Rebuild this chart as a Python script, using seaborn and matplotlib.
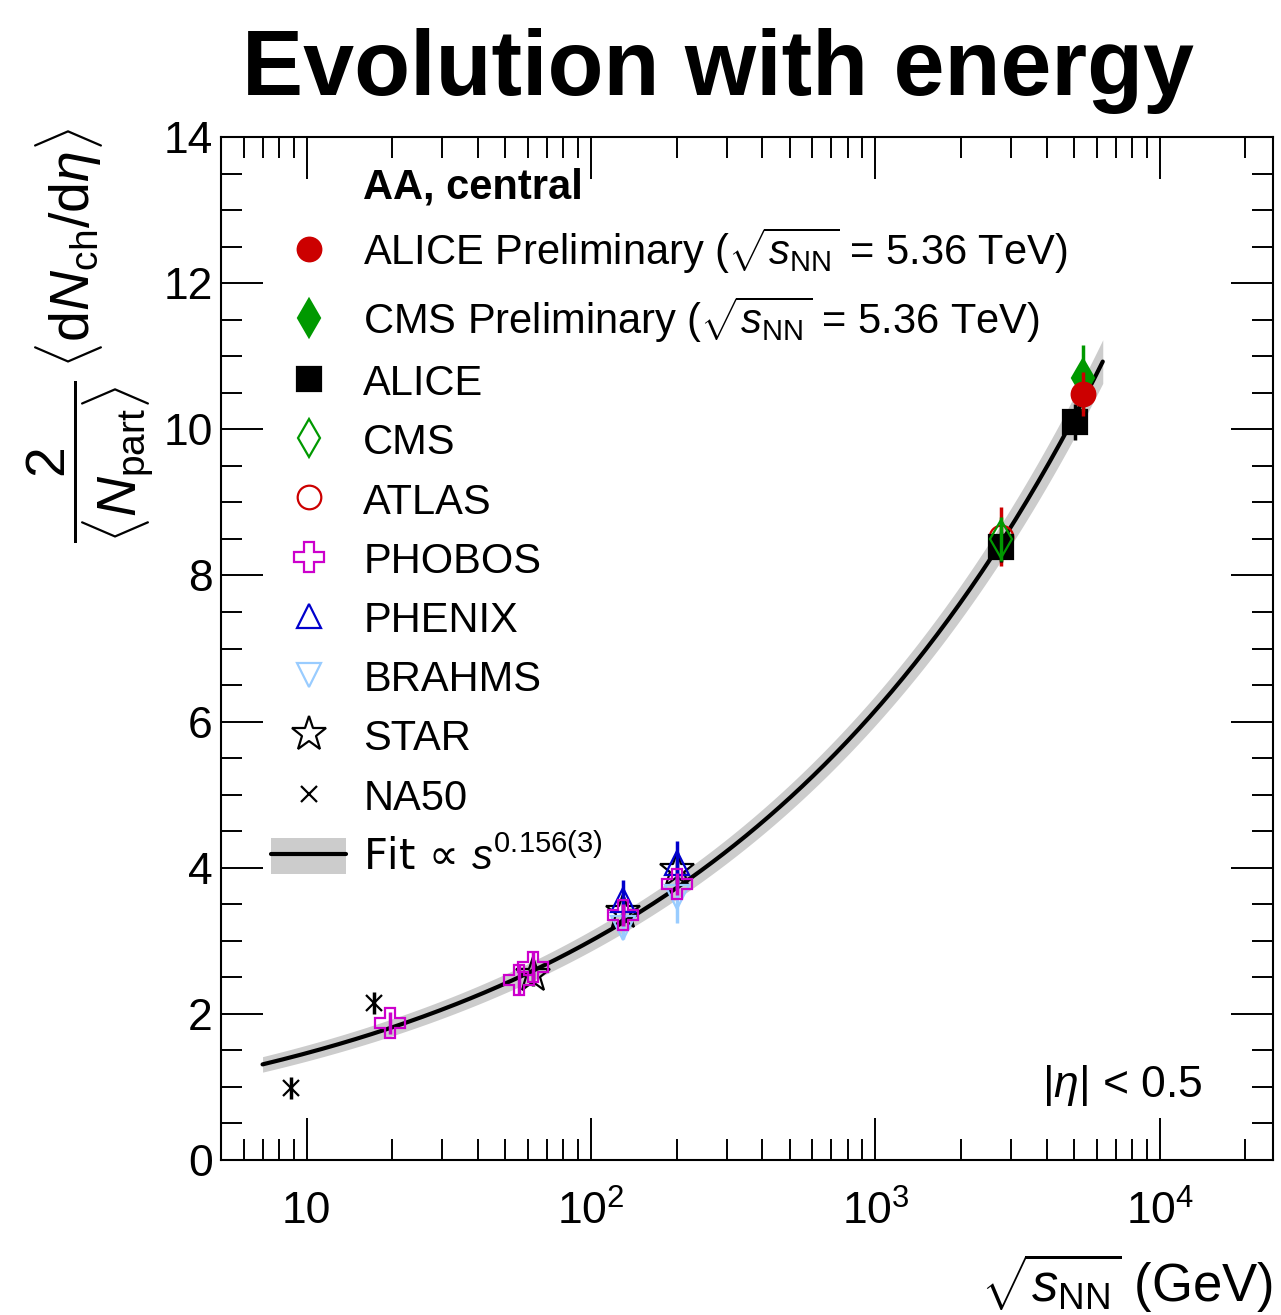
import matplotlib
matplotlib.use("Agg")
import matplotlib.pyplot as plt
import numpy as np
import seaborn as sns
from matplotlib.lines import Line2D
from matplotlib.patches import Patch
from matplotlib.ticker import FixedLocator, FixedFormatter, MultipleLocator, LogLocator, NullFormatter

# ---- data (sqrt(s_NN) in GeV, value, error) ----
alice_pre_x = [5360]
alice_pre_y = [10.48]
alice_pre_e = [0.30]

cms_pre_x = [5360]
cms_pre_y = [10.70]
cms_pre_e = [0.45]

alice_x = [2760, 5020]
alice_y = [8.39, 10.10]
alice_e = [0.20, 0.25]

cms_x = [2760]
cms_y = [8.50]
cms_e = [0.30]

atlas_x = [2760]
atlas_y = [8.53]
atlas_e = [0.40]

phobos_x = [19.6, 56, 62.4, 130, 200]
phobos_y = [1.88, 2.47, 2.64, 3.35, 3.78]
phobos_e = [0.15, 0.20, 0.20, 0.15, 0.15]

phenix_x = [130, 200]
phenix_y = [3.56, 4.06]
phenix_e = [0.27, 0.30]

brahms_x = [130, 200]
brahms_y = [3.18, 3.60]
brahms_e = [0.15, 0.35]

star_x = [62.4, 130, 200]
star_y = [2.53, 3.40, 3.97]
star_e = [0.15, 0.20, 0.25]

na50_x = [8.8, 17.3]
na50_y = [0.99, 2.15]
na50_e = [0.15, 0.15]

# fit  dN/deta ~ A * (sqrt s)^(2*0.156)
fit_amp = 0.713
fit_pow = 2 * 0.156
fit_range = (7.0, 6300.0)

RED = "#cc0000"
GREEN = "#009900"
MAGENTA = "#cc00cc"
BLUE = "#0000cc"
LBLUE = "#99ccff"

sns.set_theme(style="white")
plt.rcParams["font.family"] = ["Liberation Sans", "DejaVu Sans"]
plt.rcParams["mathtext.fontset"] = "custom"
plt.rcParams["mathtext.rm"] = "Liberation Sans"
plt.rcParams["mathtext.it"] = "Liberation Sans:italic"
plt.rcParams["mathtext.bf"] = "Liberation Sans:bold"
plt.rcParams["text.color"] = "black"

fig = plt.figure(figsize=(12.81, 13.15), dpi=100)
ax = fig.add_axes([221 / 1281, 1 - 1160 / 1315, (1273 - 221) / 1281, (1160 - 137) / 1315])

# fit curve + band
ex = np.logspace(np.log10(fit_range[0]), np.log10(fit_range[1]), 300)
fy = fit_amp * ex ** fit_pow
half = 0.08 + 0.02 * fy
ax.fill_between(ex, fy - half, fy + half, color="#cccccc", lw=0, zorder=1)
sns.lineplot(x=ex, y=fy, ax=ax, color="black", lw=3, zorder=2)

series = [
    # x, y, err, marker, size, face, edge, label
    (na50_x, na50_y, na50_e, "x", 11, "black", "black", "NA50"),
    (star_x, star_y, star_e, "*", 26, "none", "black", "STAR"),
    (brahms_x, brahms_y, brahms_e, "v", 17, "none", LBLUE, "BRAHMS"),
    (phenix_x, phenix_y, phenix_e, "^", 17, "none", BLUE, "PHENIX"),
    (phobos_x, phobos_y, phobos_e, "P", 22, "none", MAGENTA, "PHOBOS"),
    (atlas_x, atlas_y, atlas_e, "o", 17, "none", RED, "ATLAS"),
    (alice_x, alice_y, alice_e, "s", 17, "black", "black", "ALICE"),
    (cms_x, cms_y, cms_e, "d", 19, "none", GREEN, "CMS"),
    (cms_pre_x, cms_pre_y, cms_pre_e, "d", 19, GREEN, GREEN,
     r"CMS Preliminary ($\sqrt{s_{\rm NN}}$ = 5.36 TeV)"),
    (alice_pre_x, alice_pre_y, alice_pre_e, "o", 17, RED, RED,
     r"ALICE Preliminary ($\sqrt{s_{\rm NN}}$ = 5.36 TeV)"),
]

handles = {}
for i, (x, y, e, m, ms, fc, ec, lab) in enumerate(series):
    ax.errorbar(x, y, yerr=e, fmt="none", ecolor=ec, elinewidth=2.5, capsize=0, zorder=3 + i)
    h, = ax.plot(x, y, ls="none", marker=m, ms=ms, mfc=fc, mec=ec, mew=1.6, zorder=3 + i)
    handles[lab] = h

ax.set_xscale("log")
ax.set_xlim(5, 25000)
ax.set_ylim(0, 14)

ax.xaxis.set_major_locator(FixedLocator([10, 100, 1000, 10000]))
ax.xaxis.set_major_formatter(FixedFormatter(["10", r"$10^2$", r"$10^3$", r"$10^4$"]))
ax.xaxis.set_minor_locator(LogLocator(base=10, subs=np.arange(2, 10), numticks=20))
ax.xaxis.set_minor_formatter(NullFormatter())
ax.yaxis.set_major_locator(MultipleLocator(2))
ax.yaxis.set_minor_locator(MultipleLocator(0.5))

ax.tick_params(which="both", direction="in", bottom=True, left=True, top=True, right=True,
               width=1.4, colors="black")
ax.tick_params(which="major", length=30)
ax.tick_params(which="minor", length=15)
ax.tick_params(axis="x", which="major", labelsize=32, pad=22)
ax.tick_params(axis="y", which="major", labelsize=32, pad=6)
for sp in ax.spines.values():
    sp.set_linewidth(1.5)
    sp.set_color("black")

ax.set_xlabel("")
ax.set_ylabel("")

# titles / labels
fig.text(718 / 1281, 1 - 95 / 1315, "Evolution with energy", ha="center", va="baseline",
         fontsize=66, fontweight="bold", color="black")
fig.text(1273 / 1281, 1 - 1302 / 1315, r"$\sqrt{s_{\rm NN}}$ (GeV)", ha="right", va="baseline",
         fontsize=38, color="black")
fig.text(90 / 1281, 1 - 128 / 1315,
         r"$\dfrac{2}{\langle N_{\rm part}\rangle}\,\langle {\rm d}N_{\rm ch}/{\rm d}\eta\rangle$",
         rotation=90, ha="center", va="top", fontsize=40, color="black")
fig.text(1203 / 1281, 1 - 1097 / 1315, r"$|\eta|$ < 0.5", ha="right", va="baseline",
         fontsize=32, color="black")

# legend
header = Line2D([], [], ls="none")
band_h = Patch(facecolor="#cccccc", edgecolor="none")
line_h = Line2D([], [], color="black", lw=3)
order = [
    r"ALICE Preliminary ($\sqrt{s_{\rm NN}}$ = 5.36 TeV)",
    r"CMS Preliminary ($\sqrt{s_{\rm NN}}$ = 5.36 TeV)",
    "ALICE", "CMS", "ATLAS", "PHOBOS", "PHENIX", "BRAHMS", "STAR", "NA50",
]
leg_handles = [header] + [handles[k] for k in order] + [(band_h, line_h)]
leg_labels = ["AA, central"] + order + ["Fit \u221d $s^{0.156(3)}$"]
leg = ax.legend(leg_handles, leg_labels, loc="upper left", bbox_to_anchor=(0.048, 0.971),
                frameon=False, fontsize=30, numpoints=1, handlelength=1.8, handleheight=0.95,
                handletextpad=0.4, labelspacing=0.43, borderaxespad=0, borderpad=0)
for t in leg.get_texts():
    t.set_color("black")
leg.get_texts()[0].set_fontweight("bold")
leg.get_texts()[-1].set_fontfamily(["DejaVu Sans"])

fig.savefig("out.png", dpi=100)
